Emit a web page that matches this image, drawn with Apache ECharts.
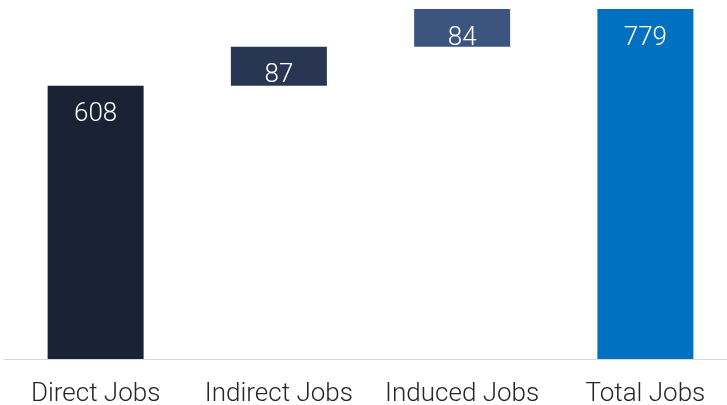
<!DOCTYPE html>
<html>
<head>
<meta charset="utf-8">
<script src="https://cdn.jsdelivr.net/npm/echarts@6/dist/echarts.min.js"></script>
<style>
  html, body { margin: 0; padding: 0; background: #fff; }
  #chart { width: 727px; height: 405px; }
</style>
</head>
<body>
<div id="chart"></div>
<script>
var categories = ['Direct Jobs', 'Indirect Jobs', 'Induced Jobs', 'Total Jobs'];
var jobs = [608, 87, 84, 779];
var barColors = ['#1a2236', '#283654', '#3c557f', '#0070c0'];

// waterfall: invisible base under each step, total starts from zero
var base = [];
var running = 0;
for (var i = 0; i < jobs.length; i++) {
    if (i === jobs.length - 1) {
        base.push(0);
    } else {
        base.push(running);
        running += jobs[i];
    }
}

var chart = echarts.init(document.getElementById('chart'));
chart.setOption({
    animation: false,
    grid: { left: 4, width: 733, top: 9, bottom: 46, outerBoundsMode: 'none' },
    xAxis: {
        type: 'category',
        data: categories,
        axisTick: { show: false },
        axisLine: { lineStyle: { color: '#d9d9d9', width: 1 } },
        axisLabel: {
            interval: 0,
            color: '#262626',
            fontFamily: 'Roboto',
            fontWeight: 300,
            fontSize: 26,
            margin: 22
        }
    },
    yAxis: {
        type: 'value',
        min: 0,
        max: 779,
        show: false,
        splitLine: { show: false }
    },
    series: [{
        type: 'bar',
        stack: 'w',
        data: base,
        barWidth: 96,
        itemStyle: { color: 'transparent' },
        silent: true
    }, {
        type: 'bar',
        stack: 'w',
        barWidth: 96,
        data: jobs.map(function (v, i) {
            return { value: v, itemStyle: { color: barColors[i] } };
        }),
        label: {
            show: true,
            position: 'insideTop',
            distance: 16,
            color: '#ffffff',
            fontFamily: 'Roboto',
            fontWeight: 300,
            fontSize: 26
        }
    }]
});
</script>
</body>
</html>
